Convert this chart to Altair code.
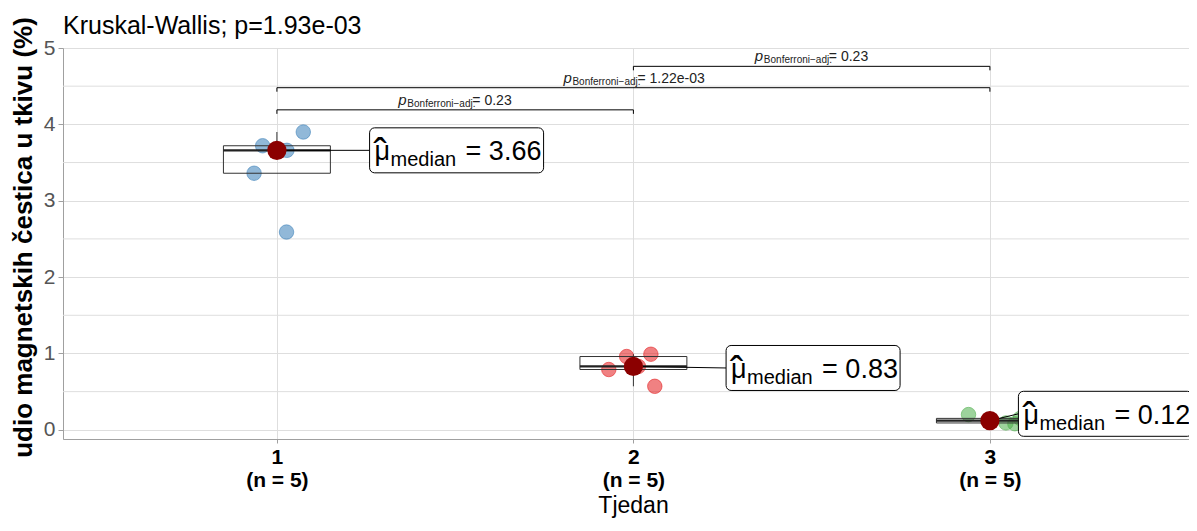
import json
import altair as alt
import numpy as np
import pandas as pd

# ---------------- data ----------------
groups = [1, 2, 3]
group_n = [5, 5, 5]
values_1 = [3.72, 3.90, 3.66, 3.36, 2.59]
jitter_1 = [-0.040, 0.074, 0.028, -0.064, 0.027]
values_2 = [0.96, 0.99, 0.79, 0.57, 0.83]
jitter_2 = [-0.019, 0.049, -0.069, 0.060, 0.014]
values_3 = [0.20, 0.12, 0.09, 0.08, 0.15]
jitter_3 = [-0.060, 0.004, 0.045, 0.070, 0.085]
point_colors = ["#377EB8", "#E41A1C", "#4DAF4A"]

median_text = ["3.66", "0.83", "0.12"]
median_label_y = [3.66, 0.81, 0.21]
median_label_dx = [0.26, 0.26, 0.08]

pair_from = [1, 1, 2]
pair_to = [2, 3, 3]
pair_p = ["0.23", "1.22e-03", "0.23"]
pair_y = [4.19, 4.48, 4.76]

y_ticks = [0, 1, 2, 3, 4, 5]
y_minor = [0.5, 1.5, 2.5, 3.5, 4.5]

title_text = "Kruskal-Wallis; p=1.93e-03"
y_title = "udio magnetskih čestica u tkivu (%)"
x_title = "Tjedan"

# ---------------- layout constants ----------------
PX_PER_X = 356.5
PX_PER_Y = 391 / 5.12
X_DOMAIN = [0.4, 0.4 + 1126 / PX_PER_X]
Y_DOMAIN = [-0.12, 5.0]
FONT = "Liberation Sans, Arial, sans-serif"
NARROW = "Liberation Sans Narrow, Arial Narrow, Liberation Sans, sans-serif"
GRID = "#dedede"

# ---------------- tables ----------------
vals = [values_1, values_2, values_3]
jits = [jitter_1, jitter_2, jitter_3]
pts = pd.DataFrame(
    [
        {"g": str(g), "x": g + j, "v": v}
        for g, vs, js in zip(groups, vals, jits)
        for v, j in zip(vs, js)
    ]
)

rows = []
for g, vs in zip(groups, vals):
    a = np.array(vs)
    q1, med, q3 = np.percentile(a, [25, 50, 75])
    iqr = q3 - q1
    lo = a[a >= q1 - 1.5 * iqr].min()
    hi = a[a <= q3 + 1.5 * iqr].max()
    rows.append(
        {"g": g, "xl": g - 0.15, "xr": g + 0.15, "q1": q1, "q3": q3,
         "med": med, "lo": lo, "hi": hi}
    )
box = pd.DataFrame(rows)

h_lab = 22.5 / PX_PER_Y
w_lab = 174 / PX_PER_X
lab = pd.DataFrame(
    {
        "g": groups,
        "med": [float(np.median(v)) for v in vals],
        "left": [g + d for g, d in zip(groups, median_label_dx)],
        "ly": median_label_y,
        "txt": ["= " + t for t in median_text],
    }
)
lab["right"] = lab["left"] + w_lab
lab["top"] = lab["ly"] + h_lab
lab["bot"] = lab["ly"] - h_lab

tick_h = 4 / PX_PER_Y
br = pd.DataFrame({"a": pair_from, "b": pair_to, "y": pair_y, "p": pair_p})
br["yt"] = br["y"] - tick_h
br["c"] = (br["a"] + br["b"]) / 2
br["txt"] = "= " + br["p"]
# left edge of the composite label so that it is centred on the bracket
br["start"] = br["c"] - (8 + 62 + 4 + 6.6 * br["txt"].str.len()) / 2 / PX_PER_X

minor = pd.DataFrame({"v": y_minor})
title_df = pd.DataFrame({"t": [title_text]})

xs = alt.Scale(domain=X_DOMAIN, nice=False, zero=False)
ys = alt.Scale(domain=Y_DOMAIN, nice=False, zero=False)

n_json = json.dumps([str(n) for n in group_n]).replace('"', "'")
x_label_expr = f"[format(datum.value, 'd'), '(n = ' + {n_json}[datum.value - 1] + ')']"

x_axis = alt.Axis(
    values=groups, labelExpr=x_label_expr, grid=True, gridColor=GRID,
    domainColor="#a0a0a0", tickColor="#a0a0a0", tickSize=4,
    labelFont=NARROW, labelFontSize=21, labelFontWeight="bold", labelColor="black",
    labelLineHeight=23, labelPadding=3, title=x_title, titleFont=NARROW,
    titleFontSize=23, titleFontWeight="normal", titleColor="black", titlePadding=4,
    titleX=570,
)
y_axis = alt.Axis(
    values=y_ticks, format="d", grid=True, gridColor=GRID, domainColor="#a0a0a0",
    tickColor="#a0a0a0", tickSize=5, labelFont=FONT, labelFontSize=21,
    labelColor="#555555", labelPadding=3, title=y_title, titleFont=FONT,
    titleFontSize=26, titleFontWeight="bold", titleColor="black", titlePadding=7,
    titleY=189,
)

grid_minor = alt.Chart(minor).mark_rule(color=GRID, strokeWidth=1).encode(
    y=alt.Y("v:Q", scale=ys, axis=y_axis)
)

base_pts = alt.Chart(pts).encode(
    x=alt.X("x:Q", scale=xs, axis=x_axis),
    y=alt.Y("v:Q", scale=ys),
    color=alt.Color("g:N", scale=alt.Scale(domain=[str(g) for g in groups], range=point_colors), legend=None),
)
points = base_pts.mark_circle(size=210, opacity=0.55, strokeWidth=1)
points_edge = base_pts.mark_circle(size=210, filled=False, opacity=0.55, strokeWidth=1)

bx = alt.Chart(box)
box_rect = bx.mark_rect(fillOpacity=0, stroke="#333333", strokeWidth=1).encode(
    x=alt.X("xl:Q", scale=xs), x2="xr:Q", y=alt.Y("q1:Q", scale=ys), y2="q3:Q"
)
median_line = bx.mark_rule(color="#222222", strokeWidth=2.2).encode(
    x=alt.X("xl:Q", scale=xs), x2="xr:Q", y=alt.Y("med:Q", scale=ys)
)
whisk_lo = bx.mark_rule(color="#333333", strokeWidth=1).encode(
    x=alt.X("g:Q", scale=xs), y=alt.Y("lo:Q", scale=ys), y2="q1:Q"
)
whisk_hi = bx.mark_rule(color="#333333", strokeWidth=1).encode(
    x=alt.X("g:Q", scale=xs), y=alt.Y("q3:Q", scale=ys), y2="hi:Q"
)

lb = alt.Chart(lab)
segment = lb.mark_rule(color="black", strokeWidth=1).encode(
    x=alt.X("g:Q", scale=xs), y=alt.Y("med:Q", scale=ys), x2="left:Q", y2="ly:Q"
)
red_dot = lb.mark_circle(size=370, color="#8B0000", opacity=1).encode(
    x=alt.X("g:Q", scale=xs), y=alt.Y("med:Q", scale=ys)
)
lab_box = lb.mark_rect(fill="white", stroke="black", strokeWidth=1, cornerRadius=5).encode(
    x=alt.X("left:Q", scale=xs), x2="right:Q", y=alt.Y("bot:Q", scale=ys), y2="top:Q"
)
lab_enc = dict(x=alt.X("left:Q", scale=xs), y=alt.Y("ly:Q", scale=ys))
lab_mu = lb.mark_text(text="μ", font=FONT, fontSize=27, align="left", baseline="alphabetic",
                      dx=5, dy=10, color="black").encode(**lab_enc)
lab_hat = lb.mark_text(text="ˆ", font=FONT, fontSize=40, align="left", baseline="alphabetic",
                       dx=4, dy=17, color="black").encode(**lab_enc)
lab_sub = lb.mark_text(text="median", font=FONT, fontSize=20, align="left", baseline="alphabetic",
                       dx=21, dy=16, color="black").encode(**lab_enc)
lab_val = lb.mark_text(font=FONT, fontSize=27, align="left", baseline="alphabetic",
                       dx=96, dy=10, color="black").encode(text="txt:N", **lab_enc)

bb = alt.Chart(br)
br_line = bb.mark_rule(color="black", strokeWidth=1).encode(
    x=alt.X("a:Q", scale=xs), x2="b:Q", y=alt.Y("y:Q", scale=ys)
)
br_tick_a = bb.mark_rule(color="black", strokeWidth=1).encode(
    x=alt.X("a:Q", scale=xs), y=alt.Y("y:Q", scale=ys), y2="yt:Q"
)
br_tick_b = bb.mark_rule(color="black", strokeWidth=1).encode(
    x=alt.X("b:Q", scale=xs), y=alt.Y("y:Q", scale=ys), y2="yt:Q"
)
br_enc = dict(x=alt.X("start:Q", scale=xs), y=alt.Y("y:Q", scale=ys))
br_p = bb.mark_text(text="p", font=FONT, fontSize=15, fontStyle="italic", align="left",
                    baseline="alphabetic", dx=0, dy=-5, color="#222222").encode(**br_enc)
br_sub = bb.mark_text(text="Bonferroni−adj.", font=NARROW, fontSize=10, align="left",
                      baseline="alphabetic", dx=9, dy=-3, color="#222222").encode(**br_enc)
br_val = bb.mark_text(font=NARROW, fontSize=14, align="left", baseline="alphabetic",
                      dx=74, dy=-5, color="#222222").encode(text="txt:N", **br_enc)

# chart title, drawn as a text mark just above the plot area
title_mark = alt.Chart(title_df).mark_text(
    font=FONT, fontSize=25, align="left", baseline="alphabetic", color="black"
).encode(x=alt.value(0), y=alt.value(-14), text="t:N")

chart = alt.layer(
    grid_minor, points, points_edge, box_rect, median_line, whisk_lo, whisk_hi,
    segment, red_dot, lab_box, lab_hat, lab_mu, lab_sub, lab_val,
    br_line, br_tick_a, br_tick_b, br_p, br_sub, br_val, title_mark,
).properties(
    width=1126,
    height=391,
    autosize=alt.AutoSizeParams(type="none"),
    padding={"left": 55, "top": 40, "right": 0, "bottom": 84},
).configure_view(stroke=None).configure(background="white")

chart.save("out.html", embed_options={"renderer": "svg", "actions": False})
